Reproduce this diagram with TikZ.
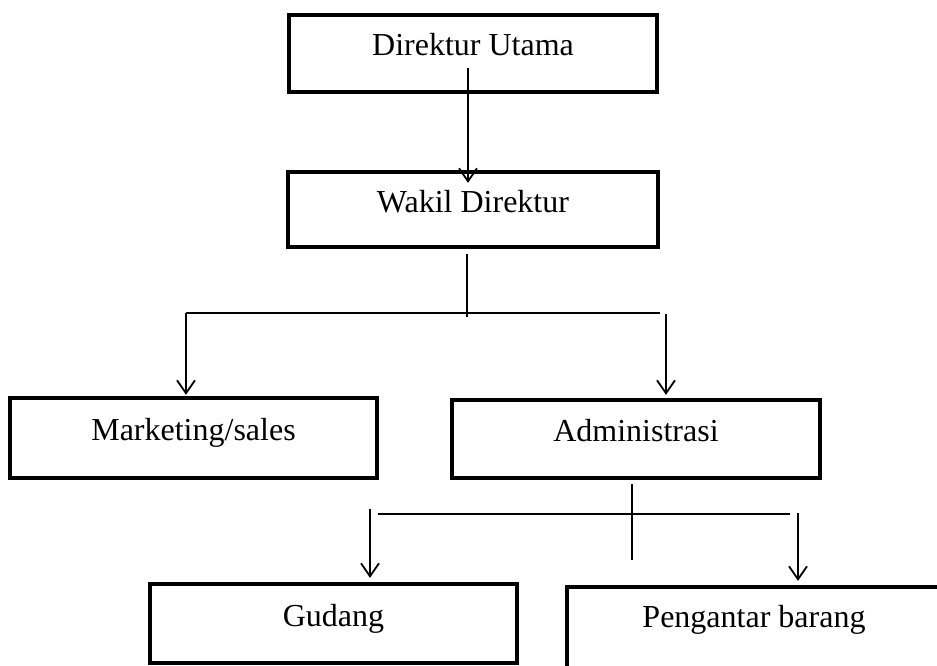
\documentclass[tikz,border=0pt]{standalone}
\usepackage{fontspec}
\setmainfont{Liberation Serif}
\usetikzlibrary{arrows.meta,calc}

\tikzset{
	jabatan/.style={draw, line width=4.3pt, font=\fontsize{32}{38}\selectfont, text height=22pt, text depth=17pt},
	garis/.style={line width=1.8pt},
	panah/.style={garis, -{Straight Barb[length=13pt,width=18pt]}}
}

\begin{document}
\begin{tikzpicture}[x=1pt,y=-1pt]
		\useasboundingbox (0,0) rectangle (937,666);

		% Boxes of the structure
		\node[jabatan, minimum width=368pt, minimum height=77pt] (du) at (473,53.5) {Direktur Utama};
		\node[jabatan, minimum width=370pt, minimum height=75pt] (wd) at (473,209.5) {Wakil Direktur};
		\node[jabatan, minimum width=367pt, minimum height=80pt] (ms) at (193.5,438) {Marketing/sales};
		\node[jabatan, minimum width=368pt, minimum height=78pt] (adm) at (636,439) {Administrasi};
		\node[jabatan, minimum width=367pt, minimum height=79pt] (gd) at (333.5,623.5) {Gudang};
		\node[jabatan, minimum width=374pt, minimum height=86pt, text depth=28pt] (pb) at (754,630) {Pengantar barang};

		% Direktur Utama to Wakil Direktur
		\draw[panah] ($(du.center)+(-5,14.5)$) -- ($(wd.north)+(-5,13)$);

		% Wakil Direktur to Marketing/sales and Administrasi
		\coordinate (b1) at ($(wd.south)+(-6,68)$);
		\coordinate (b1l) at ($(ms.north)+(-7.5,-83)$);
		\coordinate (b1r) at ($(adm.north)+(24,-85)$);
		\draw[garis] ($(wd.south)+(-6,5)$) -- (b1);
		\draw[garis] (b1l) -- (b1r);
		\draw[panah] (b1l) -- ($(ms.north)+(-7.5,-1)$);
		\draw[panah] ($(b1r)+(6,1)$) -- ($(adm.north)+(30,-3)$);

		% Administrasi to Gudang and Pengantar barang
		\coordinate (b2l) at ($(gd.north)+(44.5,-68)$);
		\coordinate (b2r) at ($(pb.north)+(36,-71)$);
		\draw[garis] ($(adm.south)+(-4,4)$) -- ($(adm.south)+(-4,80)$);
		\draw[garis] (b2l) -- (b2r);
		\draw[panah] ($(gd.north)+(36.5,-73)$) -- ($(gd.north)+(36.5,-4)$);
		\draw[panah] ($(pb.north)+(44,-72)$) -- ($(pb.north)+(44,-4)$);
	\end{tikzpicture}
\end{document}
